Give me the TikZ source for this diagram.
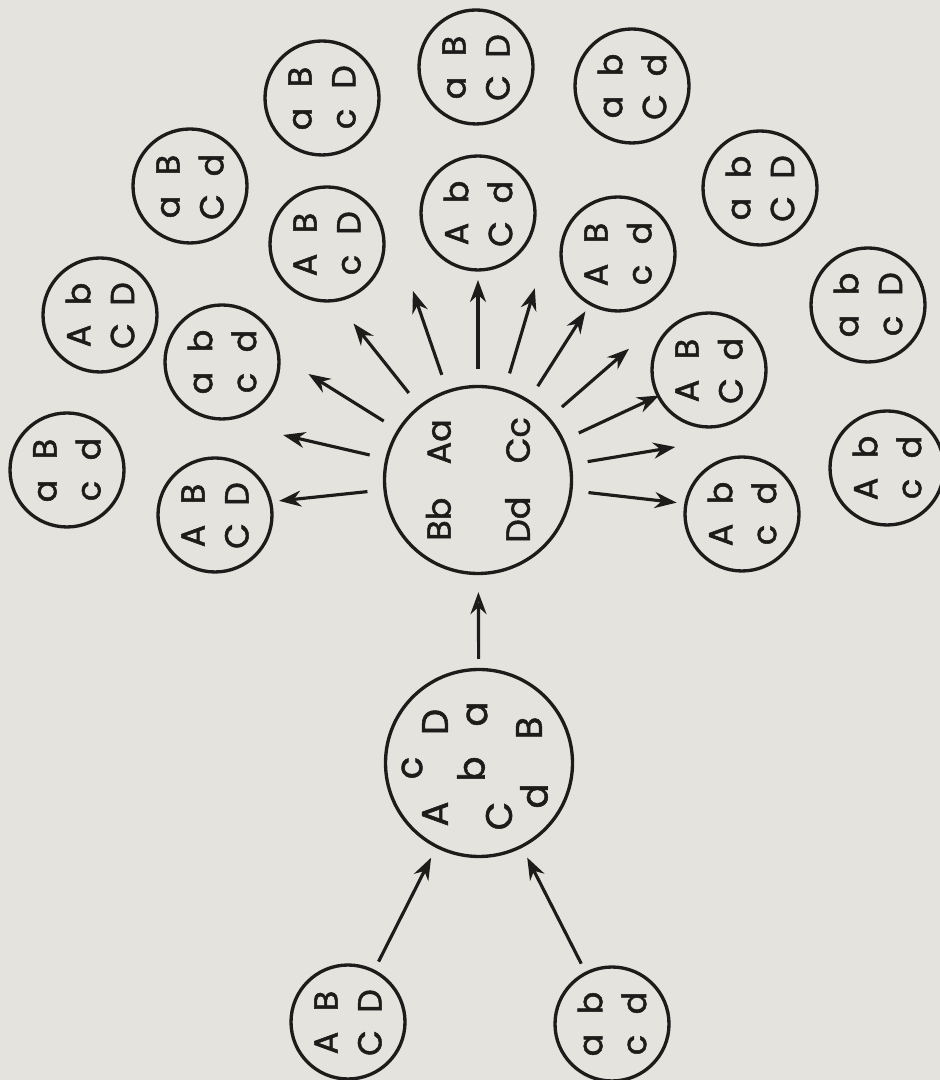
\documentclass[tikz,border=0pt]{standalone}
\usepackage{fontspec}
\setmainfont{Poppins}[FakeBold=1.5]
\usetikzlibrary{arrows.meta}
\definecolor{paper}{RGB}{229,227,221}
\definecolor{ink}{RGB}{30,28,26}
\newcommand{\gm}[4]{\makebox[0.84cm]{#1}\makebox[0.84cm]{#2}\\\makebox[0.84cm]{#3}\makebox[0.84cm]{#4}}
\tikzset{
  gamete/.style={draw=ink,circle,line width=1.9pt,minimum size=2.28cm,inner sep=0pt,
    rotate=90,align=center,text=ink,font=\fontsize{19}{25}\selectfont},
  bigcell/.style={draw=ink,circle,line width=1.9pt,minimum size=3.74cm,inner sep=0pt,
    rotate=90,align=center,text=ink},
  letter/.style={rotate=90,inner sep=0pt,text=ink,font=\fontsize{21}{25}\selectfont},
  ray/.style={-{Stealth[length=4.4mm,width=3.2mm]},line width=1.8pt,draw=ink,shorten <=0.32cm}
}

\begin{document}
\begin{tikzpicture}
    \fill[paper] (0,0) rectangle (18.8,21.6);
    \useasboundingbox (0,0) rectangle (18.8,21.6);
    \node[gamete] (pA) at (6.96,1.16) {\gm{A}{B}{C}{D}};
    \node[gamete] (pB) at (12.24,1.12) {\gm{a}{b}{c}{d}};
    \node[bigcell] (hyb) at (9.58,6.34) {};
    \foreach \l/\x/\y [count=\i] in {A/-0.88/-1.02,c/-1.34/-0.10,D/-0.88/0.82,b/-0.16/-0.12,
        a/-0.04/0.98,B/1.0/0.70,d/1.10/-0.66,C/0.40/-1.06}
      \node[letter] (h\i) at ([shift={(\x,\y)}]hyb.center) {\l};
    \node[bigcell,font=\fontsize{19}{45}\selectfont] (ctr) at (9.56,12.0) {Bb\quad Aa\\Dd\quad Cc};
    \draw[ray,shorten <=0.18cm,shorten >=0.22cm] (pA) -- (hyb);
    \draw[ray,shorten <=0.18cm,shorten >=0.22cm] (pB) -- (hyb);
    \draw[ray,-{Stealth[open,length=4.4mm,width=3.2mm]},shorten <=0.18cm,shorten >=0.34cm] (hyb) -- (ctr);
    \foreach \a [count=\i] in {186,167,148,128.5,109,90,73.5,57.5,41,25,9.5,-6.5}{
      \coordinate (r\i) at ([shift={(\a:4cm)}]ctr.center);
      \draw[ray] (ctr) -- (r\i);
    }
    \node[gamete] (g1) at (1.34,12.2) {\gm{a}{B}{c}{d}};
    \node[gamete] (g2) at (2.0,15.3) {\gm{A}{b}{C}{D}};
    \node[gamete] (g3) at (4.44,14.36) {\gm{a}{b}{c}{d}};
    \node[gamete] (g4) at (4.3,11.3) {\gm{A}{B}{C}{D}};
    \node[gamete] (g5) at (3.8,17.88) {\gm{a}{B}{C}{d}};
    \node[gamete] (g6) at (6.44,19.64) {\gm{a}{B}{c}{D}};
    \node[gamete] (g7) at (6.54,16.72) {\gm{A}{B}{c}{D}};
    \node[gamete] (g8) at (9.52,20.26) {\gm{a}{B}{C}{D}};
    \node[gamete] (g9) at (9.56,17.34) {\gm{A}{b}{C}{d}};
    \node[gamete] (g10) at (12.64,19.88) {\gm{a}{b}{C}{d}};
    \node[gamete] (g11) at (15.2,17.84) {\gm{a}{b}{C}{D}};
    \node[gamete] (g12) at (12.36,16.52) {\gm{A}{B}{c}{d}};
    \node[gamete] (g13) at (17.36,15.5) {\gm{a}{b}{c}{D}};
    \node[gamete] (g14) at (14.18,14.2) {\gm{A}{B}{C}{d}};
    \node[gamete] (g15) at (14.84,11.32) {\gm{A}{b}{c}{d}};
    \node[gamete] (g16) at (17.74,12.24) {\gm{A}{b}{c}{d}};
\end{tikzpicture}
\end{document}
